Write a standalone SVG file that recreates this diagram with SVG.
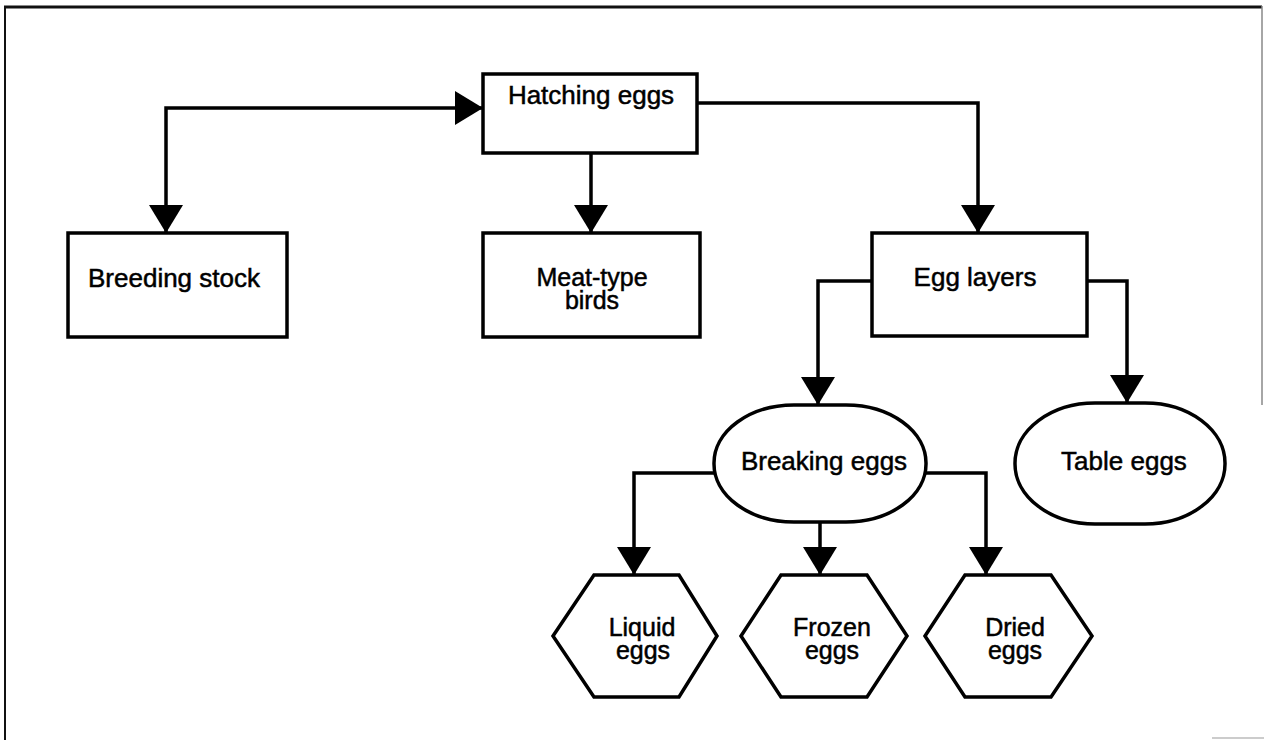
<svg xmlns="http://www.w3.org/2000/svg" width="1264" height="740" viewBox="0 0 1264 740">
  <style>
    .node { fill: #fff; stroke: #000; stroke-width: 3.5; stroke-linejoin: miter; }
    .lbl { font-family: "Liberation Sans", Arial, Helvetica, sans-serif; font-size: 26px; fill: #000; stroke: #000; stroke-width: 0.5; text-anchor: middle; }
    .lbl2 { font-family: "Liberation Sans", Arial, Helvetica, sans-serif; font-size: 25px; fill: #000; stroke: #000; stroke-width: 0.5; text-anchor: middle; }
    .conn { fill: none; stroke: #000; stroke-width: 3.5; marker-end: url(#arr); }
    .frame { fill: none; stroke: #111; }
  </style>
  <defs>
    <marker id="arr" markerUnits="userSpaceOnUse" markerWidth="30" markerHeight="36" refX="28" refY="17" orient="auto-start-reverse">
      <path d="M0,0 L28,17 L0,34 Z" fill="#000"/>
    </marker>
  </defs>
  <rect width="1264" height="740" fill="#fff"/>

  <g id="frame">
    <line class="frame" x1="4" y1="7" x2="1262" y2="7" stroke-width="3"/>
    <line class="frame" x1="5" y1="6" x2="5" y2="740" stroke-width="2"/>
    <line x1="1262" y1="6" x2="1262" y2="405" stroke="#888" stroke-width="1.5"/>
    <line x1="1212" y1="738" x2="1264" y2="738" stroke="#bbb" stroke-width="1.5"/>
  </g>

  <g id="connectors">
    <path class="conn" d="M166,233 L166,108 L483,108" marker-start="url(#arr)"/>
    <path class="conn" d="M591,153 L591,233"/>
    <path class="conn" d="M697,103 L978,103 L978,233"/>
    <path class="conn" d="M872,281 L818,281 L818,405"/>
    <path class="conn" d="M1087,281 L1127,281 L1127,403"/>
    <path class="conn" d="M714,473 L634,473 L634,575"/>
    <path class="conn" d="M820,522 L820,575"/>
    <path class="conn" d="M926,473 L986,473 L986,575"/>
  </g>

  <g id="hatching-eggs">
    <rect class="node" x="483" y="74" width="214" height="79"/>
    <text class="lbl" x="591" y="104">Hatching eggs</text>
  </g>
  <g id="breeding-stock">
    <rect class="node" x="68" y="233" width="219" height="104"/>
    <text class="lbl" x="174" y="287">Breeding stock</text>
  </g>
  <g id="meat-type-birds">
    <rect class="node" x="483" y="233" width="217" height="104"/>
    <text class="lbl2" x="592" y="286">Meat-type</text>
    <text class="lbl2" x="592" y="309">birds</text>
  </g>
  <g id="egg-layers">
    <rect class="node" x="872" y="233" width="215" height="103"/>
    <text class="lbl" x="975" y="286">Egg layers</text>
  </g>
  <g id="breaking-eggs">
    <rect class="node" x="714" y="405" width="212" height="117" rx="80" ry="58"/>
    <text class="lbl" x="824" y="470">Breaking eggs</text>
  </g>
  <g id="table-eggs">
    <rect class="node" x="1015" y="403" width="210" height="121" rx="80" ry="60"/>
    <text class="lbl" x="1124" y="470">Table eggs</text>
  </g>
  <g id="liquid-eggs">
    <polygon class="node" points="553,636 594,575 679,575 717,636 679,697 594,697"/>
    <text class="lbl2" x="642" y="636">Liquid</text>
    <text class="lbl2" x="643" y="659">eggs</text>
  </g>
  <g id="frozen-eggs">
    <polygon class="node" points="741,636 781,575 867,575 907,636 867,697 781,697"/>
    <text class="lbl2" x="832" y="636">Frozen</text>
    <text class="lbl2" x="832" y="659">eggs</text>
  </g>
  <g id="dried-eggs">
    <polygon class="node" points="925,636 965,575 1051,575 1092,636 1051,697 965,697"/>
    <text class="lbl2" x="1015" y="636">Dried</text>
    <text class="lbl2" x="1015" y="659">eggs</text>
  </g>
</svg>
